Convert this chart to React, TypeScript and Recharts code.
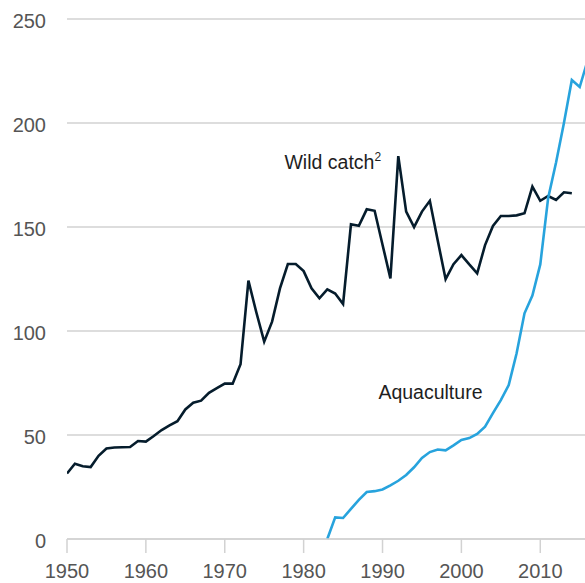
import React from "react";
import {
  LineChart,
  Line,
  XAxis,
  YAxis,
  CartesianGrid,
  ReferenceDot,
} from "recharts";

const wildStartYear = 1950;
const wildCatch = [
  31.5, 36.2, 35, 34.6, 40, 43.5, 44, 44.1, 44.2, 47.1,
  46.8, 49.5, 52.4, 54.6, 56.6, 62.3, 65.5, 66.5, 70.3, 72.5,
  74.7, 74.7, 84, 124.2, 109, 94.9, 104.5, 120.5, 132.2, 132.2,
  128.8, 120.5, 115.7, 120, 118, 113, 151.3, 150.6, 158.5, 157.8,
  141.5, 125.3, 184.1, 157.4, 149.9, 157.4, 162.6, 143.5, 124.9, 132.1,
  136.5, 132, 127.7, 141.3, 150.5, 155.3, 155.3, 155.6, 156.6, 169.4,
  162.6, 164.9, 163, 166.7, 166.2,
];

const aquaStartYear = 1983;
const aquaculture = [
  0, 10.4, 10.1, 14.5, 18.8, 22.6, 23, 23.8, 25.8, 28,
  30.8, 34.5, 39, 41.8, 43, 42.6, 45, 47.6, 48.5, 50.5,
  54, 60.5, 66.8, 74, 89.3, 108.5, 117, 132, 164, 181,
  200, 220.7, 217.3, 230,
];

const xTicks = [1950, 1960, 1970, 1980, 1990, 2000, 2010];
const yTicks = [0, 50, 100, 150, 200, 250];

const wildLabel = { text: "Wild catch", sup: "2", year: 1977.57, value: 177.9 };
const aquaLabel = { text: "Aquaculture", year: 1989.48, value: 67.3 };

const firstYear = 1950;
const lastYear = 2016;
const data: { year: number; wild: number | null; aqua: number | null }[] = [];
for (let y = firstYear; y <= lastYear; y++) {
  const wi = y - wildStartYear;
  const ai = y - aquaStartYear;
  data.push({
    year: y,
    wild: wi >= 0 && wi < wildCatch.length ? wildCatch[wi] : null,
    aqua: ai >= 0 && ai < aquaculture.length ? aquaculture[ai] : null,
  });
}

const FONT = '"Liberation Sans", Arial, Helvetica, sans-serif';

const makeLabel = (text: string, sup?: string) => (props: any) => {
  const vb = props.viewBox || {};
  const x = (vb.x ?? 0) + (vb.width ?? 0) / 2;
  const y = (vb.y ?? 0) + (vb.height ?? 0) / 2;
  return (
    <text x={x} y={y} fill="#1e1e1e" fontSize={19.5} fontFamily={FONT} textAnchor="start">
      {text}
      {sup ? (
        <tspan fontSize={12} dy={-8}>
          {sup}
        </tspan>
      ) : null}
    </text>
  );
};

export default function App() {
  return (
    <div style={{ position: "absolute", left: 0, top: 0, background: "#fff" }}>
      <LineChart
        width={585}
        height={583}
        data={data}
        margin={{ top: 19, right: 0, bottom: 0, left: 0 }}
      >
        <CartesianGrid vertical={false} stroke="#d2d2d2" strokeWidth={1.5} />
        <XAxis
          dataKey="year"
          type="number"
          domain={[1950, 2015.67]}
          allowDataOverflow
          ticks={xTicks}
          height={44}
          tickSize={14}
          tickMargin={11}
          axisLine={{ stroke: "#d2d2d2", strokeWidth: 1.5 }}
          tickLine={{ stroke: "#d2d2d2", strokeWidth: 1.5 }}
          tick={{ fill: "#555", fontSize: 20, fontFamily: FONT }}
        />
        <YAxis
          type="number"
          domain={[0, 250]}
          ticks={yTicks}
          width={67}
          axisLine={false}
          tickLine={false}
          tickSize={0}
          tickMargin={21}
          tick={{ fill: "#555", fontSize: 20, fontFamily: FONT, dy: 2 }}
        />
        <Line
          dataKey="wild"
          stroke="#051c2c"
          strokeWidth={2.6}
          dot={false}
          isAnimationActive={false}
          strokeLinejoin="miter"
        />
        <Line
          dataKey="aqua"
          stroke="#27a3dd"
          strokeWidth={2.6}
          dot={false}
          isAnimationActive={false}
          strokeLinejoin="miter"
        />
        <ReferenceDot
          x={wildLabel.year}
          y={wildLabel.value}
          r={0}
          fill="none"
          stroke="none"
          label={makeLabel(wildLabel.text, wildLabel.sup)}
        />
        <ReferenceDot
          x={aquaLabel.year}
          y={aquaLabel.value}
          r={0}
          fill="none"
          stroke="none"
          label={makeLabel(aquaLabel.text)}
        />
      </LineChart>
    </div>
  );
}
